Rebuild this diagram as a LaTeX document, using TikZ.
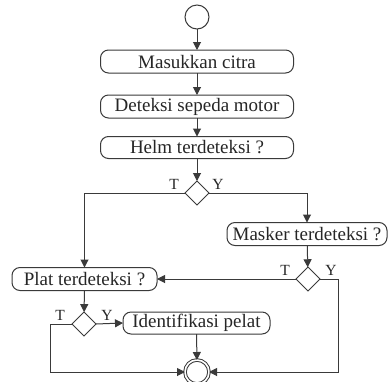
\documentclass[tikz,border=0pt]{standalone}
\usepackage{fontspec}
\setmainfont{Liberation Serif}
\usetikzlibrary{shapes.geometric,arrows.meta}
\definecolor{ink}{HTML}{3A3A3A}
\begin{document}
\begin{tikzpicture}[x=1pt,y=-1pt,
  every node/.style={inner sep=0pt,outer sep=0pt},
  act/.style={draw=ink,line width=1pt,rounded corners=8pt,minimum height=23pt,
    font=\fontsize{19}{21}\selectfont,text=black!85},
  choice/.style={draw=ink,line width=1pt,diamond,minimum width=24pt,minimum height=24pt,aspect=1},
  startpt/.style={draw=ink,line width=1pt,circle,minimum size=24pt},
  endpt/.style={draw=ink,line width=1pt,circle,minimum size=24pt,double,double distance=1.6pt},
  flow/.style={draw=ink,line width=1pt,-{Triangle[length=8pt,width=8pt]}},
  guard/.style={font=\fontsize{15.5}{17}\selectfont,text=black!85}]
\path[use as bounding box,fill=white] (0,0) rectangle (388,381);

\node[startpt] (start) at (197,17) {};
\node[act,minimum width=193pt] (b1) at (197,61.5) {Masukkan citra};
\node[act,minimum width=193pt] (b2) at (197,106.5) {Deteksi sepeda motor};
\node[act,minimum width=193pt,minimum height=22pt] (b3) at (197,147.5) {Helm terdeteksi ?};
\node[choice] (d1) at (197,193) {};
\node[act,minimum width=160pt] (mask) at (307,234) {Masker terdeteksi ?};
\node[choice] (d2) at (308,279) {};
\node[act,minimum width=145pt] (plat) at (84.5,279) {Plat terdeteksi ?};
\node[choice] (d3) at (84,324) {};
\node[act,minimum width=147pt,minimum height=22pt] (ident) at (196.5,323) {Identifikasi pelat};
\node[endpt] (stop) at (197,372) {};

\coordinate (rtop) at (338,279);
\coordinate (rbot) at (338,372);
\coordinate (ltop) at (50,324);
\coordinate (lbot) at (50,372);

\draw[flow] (start) -- (b1);
\draw[flow] (b1) -- (b2);
\draw[flow] (b2) -- (b3);
\draw[flow] (b3) -- (d1);
\draw[flow] (d1.west) -| (plat.north);
\draw[flow] (d1.east) -| (mask.north);
\draw[flow] (mask) -- (d2);
\draw[flow] (d2.west) -- (plat.east);
\draw[flow] (d2.east) -- (rtop) -- (rbot) -- (stop.east);
\draw[flow] (plat) -- (d3);
\draw[flow] (d3.east) -- (ident.west);
\draw[flow] (d3.west) -- (ltop) -- (lbot) -- (stop.west);
\draw[flow] (ident) -- (stop);

\node[guard] (t1) at (174,184) {T};
\node[guard] (y1) at (218,184) {Y};
\node[guard] (t2) at (285,270) {T};
\node[guard] (y2) at (331,270) {Y};
\node[guard] (t3) at (60,315) {T};
\node[guard] (y3) at (107,315) {Y};
\end{tikzpicture}
\end{document}
